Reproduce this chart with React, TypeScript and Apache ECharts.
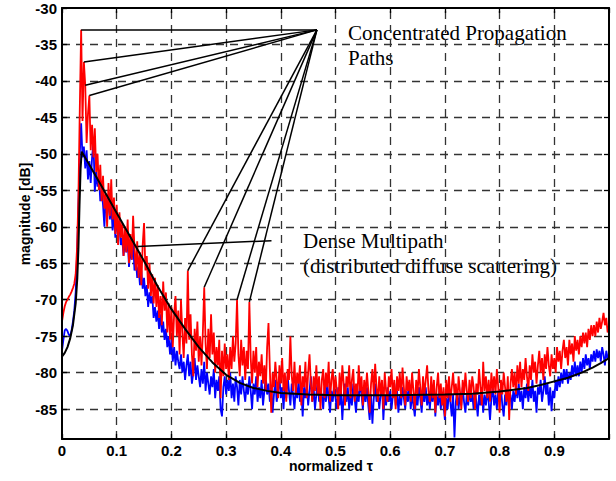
import React, { useEffect, useRef } from "react";
import * as echarts from "echarts";

// sample spacing of the measured delay profiles (normalized tau)
const TAU_STEP = 0.0025;

// measured profile (red), one value per TAU_STEP, tau = 0 .. 1
const RED_DB = [
  -73.0, -71.8, -70.9, -70.3, -70.0, -69.6, -69.3, -68.9, -68.4, -67.8,
  -66.5, -63.0, -56.0, -44.0, -33.0, -45.5, -37.4, -40.6, -48.5, -44.5,
  -42.0, -49.5, -46.0, -50.5, -46.5, -52.5, -50.0, -55.0, -51.5, -56.5,
  -53.0, -57.5, -55.5, -60.0, -54.0, -58.5, -53.5, -59.0, -56.0, -61.0,
  -57.0, -62.5, -58.0, -61.5, -59.5, -64.0, -60.0, -63.5, -59.0, -65.0,
  -61.0, -64.5, -58.5, -63.0, -66.0, -62.0, -67.0, -63.5, -68.0, -62.5,
  -59.5, -66.0, -64.0, -68.5, -65.0, -69.5, -66.5, -70.5, -67.0, -71.0,
  -68.0, -72.5, -69.5, -73.5, -67.5, -71.5, -69.0, -74.5, -70.5, -75.5,
  -71.0, -76.5, -72.0, -69.5, -75.0, -71.5, -77.5, -70.0, -74.5, -78.0,
  -72.5, -76.0, -66.0, -75.5, -72.0, -77.5, -80.5, -74.0, -77.0, -73.0,
  -78.5, -75.0, -79.0, -74.5, -68.3, -76.0, -79.5, -74.0, -78.0, -72.0,
  -77.5, -74.5, -80.0, -76.5, -79.0, -75.5, -83.5, -77.0, -80.5, -76.0,
  -79.5, -77.5, -81.0, -76.5, -79.5, -75.0, -78.5, -76.0, -70.0, -77.5,
  -80.5, -75.5, -79.0, -76.5, -81.0, -77.0, -79.5, -70.3, -78.0, -81.5,
  -77.0, -80.0, -76.5, -82.0, -78.5, -80.5, -77.5, -81.5, -79.0, -82.5,
  -76.5, -73.2, -79.5, -85.5, -80.0, -82.0, -78.5, -81.0, -83.5, -79.0,
  -81.5, -78.0, -82.5, -80.0, -84.0, -79.5, -81.0, -75.0, -80.5, -82.5,
  -78.5, -83.0, -80.0, -81.5, -79.0, -84.5, -80.5, -82.0, -78.5, -83.5,
  -80.0, -77.5, -81.5, -84.0, -80.5, -82.5, -79.0, -83.0, -80.5, -85.0,
  -81.0, -79.5, -83.5, -80.0, -82.0, -78.5, -84.0, -81.0, -79.5, -83.0,
  -80.5, -82.5, -85.0, -80.0, -83.0, -79.0, -81.5, -84.5, -80.5, -82.0,
  -79.0, -83.5, -81.0, -79.5, -84.0, -81.5, -83.0, -79.0, -82.5, -80.5,
  -84.5, -81.0, -83.0, -80.0, -82.5, -85.5, -81.5, -79.5, -83.0, -78.8,
  -82.0, -84.0, -80.5, -83.0, -81.0, -85.0, -80.0, -82.5, -84.0, -80.5,
  -82.0, -79.5, -83.5, -81.0, -85.0, -80.5, -82.5, -80.0, -83.5, -79.3,
  -82.0, -84.5, -80.5, -82.5, -81.0, -84.0, -80.0, -82.5, -85.0, -81.0,
  -83.0, -79.5, -82.0, -84.5, -80.5, -83.0, -81.0, -79.0, -82.5, -84.0,
  -80.5, -83.5, -81.0, -85.5, -82.0, -80.0, -83.5, -81.5, -84.5, -82.0,
  -86.0, -81.0, -83.5, -80.5, -84.0, -82.0, -80.0, -83.0, -81.5, -84.5,
  -80.5, -82.5, -85.0, -81.0, -83.0, -80.0, -82.5, -84.0, -81.0, -83.5,
  -80.5, -82.0, -85.0, -81.5, -83.0, -79.5, -82.0, -84.5, -78.5, -82.5,
  -80.5, -83.5, -81.0, -84.0, -80.0, -82.5, -80.5, -83.0, -79.5, -82.0,
  -85.5, -81.0, -83.0, -80.0, -82.0, -84.0, -80.5, -86.5, -81.5, -79.5,
  -82.0, -80.0, -83.0, -79.0, -81.5, -78.5, -82.0, -79.5, -81.0, -78.0,
  -80.5, -82.5, -79.0, -81.0, -77.5, -80.0, -78.5, -81.5, -79.0, -77.0,
  -80.0, -78.0, -81.0, -77.5, -79.5, -76.5, -79.0, -80.5, -77.5, -79.5,
  -78.0, -80.0, -76.5, -78.5, -77.0, -79.5, -77.0, -75.5, -78.0, -76.5,
  -79.0, -75.5, -77.5, -76.0, -78.5, -75.0, -77.0, -75.5, -77.5, -75.0,
  -76.5, -74.5, -76.0, -74.5, -76.5, -74.0, -75.5, -73.5, -75.0, -73.5,
  -75.0, -73.0, -74.5, -72.5, -74.0, -73.0, -71.8, -73.5, -72.5, -74.5,
  -73.5,
];

// second measured profile (blue), same sampling
const BLUE_DB = [
  -77.0, -75.5, -74.2, -74.0, -74.3, -74.8, -75.0, -74.2, -73.0, -71.5,
  -69.0, -64.0, -57.0, -50.0, -45.8, -50.5, -49.0, -52.0, -49.5, -53.5,
  -51.0, -54.0, -50.5, -48.3, -55.2, -52.5, -54.5, -53.0, -56.5, -55.0,
  -57.0, -60.0, -56.0, -58.5, -55.5, -59.0, -57.0, -60.5, -58.0, -61.5,
  -59.0, -61.0, -60.0, -62.5, -61.5, -64.0, -62.0, -63.5, -61.5, -65.5,
  -63.0, -64.5, -62.0, -66.0, -64.5, -67.0, -65.5, -68.0, -66.0, -68.5,
  -67.0, -69.5, -68.0, -71.0, -69.0, -70.5, -69.5, -72.5, -71.0, -73.0,
  -71.5, -74.0, -72.0, -74.5, -73.0, -75.5, -74.0, -76.5, -75.0, -77.5,
  -75.5, -78.5, -76.5, -79.0, -77.0, -78.5, -79.5, -77.5, -80.0, -78.5,
  -81.0, -79.0, -77.5, -80.5, -78.5, -81.5, -80.0, -78.0, -81.0, -79.0,
  -80.5, -82.0, -79.5, -81.5, -78.5, -82.5, -80.0, -81.5, -83.0, -80.5,
  -82.0, -79.5, -83.5, -81.0, -82.5, -80.5, -85.0, -86.0, -82.0, -80.5,
  -83.0, -81.0, -82.5, -80.0, -83.5, -81.5, -84.0, -80.5, -82.0, -84.5,
  -81.0, -83.0, -80.5, -82.5, -84.0, -81.5, -83.0, -80.5, -82.5, -85.0,
  -81.5, -83.0, -80.5, -84.0, -82.0, -83.5, -81.0, -84.5, -82.5, -80.5,
  -83.0, -81.5, -84.0, -82.0, -85.5, -83.0, -81.0, -84.0, -82.5, -80.5,
  -83.5, -82.0, -85.0, -81.5, -83.5, -80.5, -82.5, -84.5, -81.5, -83.0,
  -85.0, -82.0, -83.5, -81.0, -84.0, -82.5, -86.0, -82.0, -83.5, -81.5,
  -84.5, -82.5, -80.5, -84.0, -82.0, -85.0, -83.0, -81.0, -84.0, -82.5,
  -83.0, -85.0, -82.0, -84.0, -81.5, -83.5, -85.5, -82.5, -84.0, -81.5,
  -83.5, -85.0, -82.0, -84.5, -82.5, -86.5, -83.0, -81.5, -84.0, -82.0,
  -85.0, -83.0, -84.5, -81.5, -83.5, -85.5, -82.5, -84.0, -81.0, -83.0,
  -85.0, -82.5, -84.0, -82.0, -84.5, -86.5, -83.0, -87.0, -83.5, -81.5,
  -84.0, -82.5, -85.0, -83.0, -81.5, -86.5, -83.0, -84.5, -82.0, -84.0,
  -82.5, -85.0, -83.0, -81.5, -84.5, -82.5, -85.5, -83.0, -84.5, -82.0,
  -83.5, -85.0, -82.5, -84.0, -81.5, -85.0, -83.0, -84.5, -86.0, -83.0,
  -84.5, -82.0, -83.5, -85.5, -82.5, -84.0, -82.0, -84.5, -83.0, -85.0,
  -82.5, -84.0, -81.5, -86.0, -83.0, -84.5, -82.5, -85.0, -83.0, -84.5,
  -86.5, -83.5, -85.0, -82.5, -84.0, -86.0, -83.0, -88.9, -84.0, -82.5,
  -85.0, -83.0, -84.5, -82.0, -84.0, -85.5, -83.0, -84.5, -82.5, -84.0,
  -83.0, -85.0, -82.5, -84.0, -86.0, -83.0, -84.5, -82.0, -85.5, -83.0,
  -84.5, -82.5, -84.0, -86.5, -83.5, -82.0, -84.5, -83.0, -85.0, -82.5,
  -84.0, -82.0, -84.5, -86.0, -83.0, -84.5, -82.5, -84.0, -83.0, -85.0,
  -82.5, -84.0, -82.0, -83.5, -81.5, -84.0, -82.5, -85.0, -82.0, -83.5,
  -81.5, -84.0, -82.0, -83.5, -81.0, -84.0, -82.5, -85.5, -82.0, -83.0,
  -81.0, -84.0, -82.5, -80.5, -83.0, -81.5, -84.5, -82.0, -85.3, -82.5,
  -83.5, -81.0, -82.5, -80.5, -82.0, -80.0, -81.5, -79.5, -81.0, -79.5,
  -81.5, -80.0, -81.0, -79.0, -80.5, -78.5, -80.5, -79.0, -80.5, -78.5,
  -80.0, -78.0, -79.5, -77.5, -79.0, -78.0, -79.5, -77.5, -78.5, -77.0,
  -78.5, -76.8, -78.0, -77.0, -78.5, -76.5, -77.5, -79.0, -77.0, -78.0,
  -77.5,
];

// fitted model curve (black)
const FIT_TAU = [
  0, 0.005, 0.01, 0.015, 0.02, 0.025, 0.028, 0.03, 0.032, 0.034,
  0.036, 0.05, 0.075, 0.1, 0.125, 0.15, 0.175, 0.2, 0.225, 0.25,
  0.275, 0.3, 0.325, 0.35, 0.375, 0.4, 0.45, 0.5, 0.6, 0.7,
  0.75, 0.8, 0.85, 0.875, 0.9, 0.925, 0.95, 0.97, 0.985, 1.0,
];
const FIT_DB = [
  -77.8, -77.3, -76.5, -75.3, -73.5, -70.5, -67.0, -63.0, -57.0, -52.0,
  -49.7, -51.5, -54.8, -58.1, -61.4, -64.7, -68.2, -71.3, -74.0, -76.5,
  -78.6, -80.3, -81.4, -82.1, -82.5, -82.8, -83.0, -83.1, -83.1, -83.0,
  -82.9, -82.6, -82.1, -81.7, -81.2, -80.7, -80.0, -79.3, -78.7, -78.0,
];

const Y_TICKS = [-85, -80, -75, -70, -65, -60, -55, -50, -45, -40, -35, -30];
const GRID_X = [0.1, 0.2, 0.3, 0.4, 0.5, 0.6, 0.7, 0.8, 0.9];
const GRID_Y = [-85, -80, -75, -70, -65, -60, -55, -50, -45, -40, -35];
const Y_MIN = -89.1;
const Y_MAX = -30;

// annotation: pointer lines from the label anchor to the discrete paths
const ANCHOR_TAU = 0.466;
const ANCHOR_DB = -33.0;
const PEAK_TAU = [0.035, 0.04, 0.0425, 0.05, 0.23, 0.26, 0.32, 0.3425];
const PEAK_DB = [-33.0, -37.4, -40.6, -42.0, -66.0, -68.3, -70.0, -70.3];
// pointer for the diffuse part
const DIFFUSE_TAU = [0.383, 0.138];
const DIFFUSE_DB = [-61.9, -62.7];

const SANS = '"Liberation Sans", Arial, sans-serif';
const SERIF = '"Liberation Serif", "Times New Roman", serif';

export default function App() {
  const ref = useRef<HTMLDivElement>(null);

  useEffect(() => {
    document.body.style.margin = "0";
    const chart = echarts.init(ref.current as HTMLDivElement, null, { renderer: "svg" });

    const red = RED_DB.map((v, i) => [i * TAU_STEP, v]);
    const blue = BLUE_DB.map((v, i) => [i * TAU_STEP, v]);
    const fit = FIT_TAU.map((t, i) => [t, FIT_DB[i]]);

    const pointerLines: any[] = PEAK_TAU.map((t, i) => [
      { coord: [ANCHOR_TAU, ANCHOR_DB] },
      { coord: [t, PEAK_DB[i]] },
    ]);
    pointerLines.push([
      { coord: [DIFFUSE_TAU[0], DIFFUSE_DB[0]] },
      { coord: [DIFFUSE_TAU[1], DIFFUSE_DB[1]] },
    ]);

    const gridLines: any[] = [
      ...GRID_X.map((x) => [{ coord: [x, Y_MIN] }, { coord: [x, Y_MAX] }]),
      ...GRID_Y.map((y) => [{ coord: [0, y] }, { coord: [1, y] }]),
    ];

    const axisLine = { show: true, onZero: false, lineStyle: { color: "#000", width: 2 } };
    const tickStyle = { color: "#000", width: 1.3 };
    const labelFont = {
      fontFamily: SANS,
      fontWeight: "bold" as const,
      fontSize: 15,
      color: "#000",
    };

    const option: any = {
      animation: false,
      grid: { left: 62, right: 7, top: 8, bottom: 42, containLabel: false, show: false },
      xAxis: [
        {
          type: "value",
          min: 0,
          max: 1,
          interval: 0.1,
          position: "bottom",
          z: 20,
          axisLine,
          axisTick: { show: true, inside: true, length: 5, lineStyle: tickStyle },
          axisLabel: {
            ...labelFont,
            margin: 4,
            formatter: (v: number) => (v > 0.95 ? "" : String(Math.round(v * 10) / 10)),
          },
          splitLine: { show: false },
        },
        {
          type: "value",
          min: 0,
          max: 1,
          interval: 0.1,
          position: "top",
          z: 20,
          axisLine,
          axisTick: { show: true, inside: true, length: 5, lineStyle: tickStyle },
          axisLabel: { show: false },
          splitLine: { show: false },
        },
      ],
      yAxis: [
        {
          type: "value",
          min: Y_MIN,
          max: Y_MAX,
          position: "left",
          z: 20,
          axisLine,
          axisTick: { show: true, inside: true, length: 5, lineStyle: tickStyle, customValues: Y_TICKS },
          axisLabel: { ...labelFont, margin: 5, customValues: Y_TICKS },
          splitLine: { show: false },
        },
        {
          type: "value",
          min: Y_MIN,
          max: Y_MAX,
          position: "right",
          z: 20,
          axisLine,
          axisTick: { show: true, inside: true, length: 5, lineStyle: tickStyle, customValues: Y_TICKS },
          axisLabel: { show: false, customValues: Y_TICKS },
          splitLine: { show: false },
        },
      ],
      series: [
        {
          type: "line",
          name: "blue",
          data: blue,
          showSymbol: false,
          symbol: "none",
          lineStyle: { color: "#0000ff", width: 1.8 },
          z: 10,
          silent: true,
          markLine: {
            silent: true,
            z: 5,
            symbol: ["none", "none"],
            label: { show: false },
            emphasis: { disabled: true },
            lineStyle: { color: "#333333", width: 1.3, type: [8, 6] },
            data: gridLines,
          },
        },
        {
          type: "line",
          name: "red",
          data: red,
          showSymbol: false,
          symbol: "none",
          lineStyle: { color: "#ff0000", width: 1.8 },
          z: 11,
          silent: true,
        },
        {
          type: "line",
          name: "fit",
          data: fit,
          showSymbol: false,
          symbol: "none",
          lineStyle: { color: "#000", width: 2 },
          z: 12,
          silent: true,
          markLine: {
            silent: true,
            z: 15,
            symbol: ["none", "none"],
            label: { show: false },
            emphasis: { disabled: true },
            lineStyle: { color: "#000", width: 1.5, type: "solid" },
            data: pointerLines,
          },
        },
      ],
      graphic: [
        {
          type: "text",
          left: 348,
          top: 20,
          style: {
            text: "Concentrated Propagation\nPaths",
            fontFamily: SERIF,
            fontSize: 21,
            lineHeight: 25,
            fill: "#000",
          },
        },
        {
          type: "text",
          left: 303,
          top: 228,
          style: {
            text: "Dense Multipath\n(distributed diffuse scattering)",
            fontFamily: SERIF,
            fontSize: 21,
            lineHeight: 25,
            fill: "#000",
          },
        },
        {
          type: "text",
          x: 25,
          y: 214,
          rotation: Math.PI / 2,
          style: {
            text: "magnitude [dB]",
            fontFamily: SANS,
            fontWeight: "bold",
            fontSize: 14,
            fill: "#000",
            align: "center",
            verticalAlign: "middle",
          },
        },
        {
          type: "text",
          x: 331,
          y: 466,
          style: {
            text: "normalized τ",
            fontFamily: SANS,
            fontWeight: "bold",
            fontSize: 14,
            fill: "#000",
            align: "center",
            verticalAlign: "middle",
          },
        },
      ],
    };

    chart.setOption(option);
    return () => chart.dispose();
  }, []);

  return (
    <div
      ref={ref}
      style={{ position: "absolute", left: 0, top: 0, width: 616, height: 481, background: "#fff" }}
    />
  );
}
